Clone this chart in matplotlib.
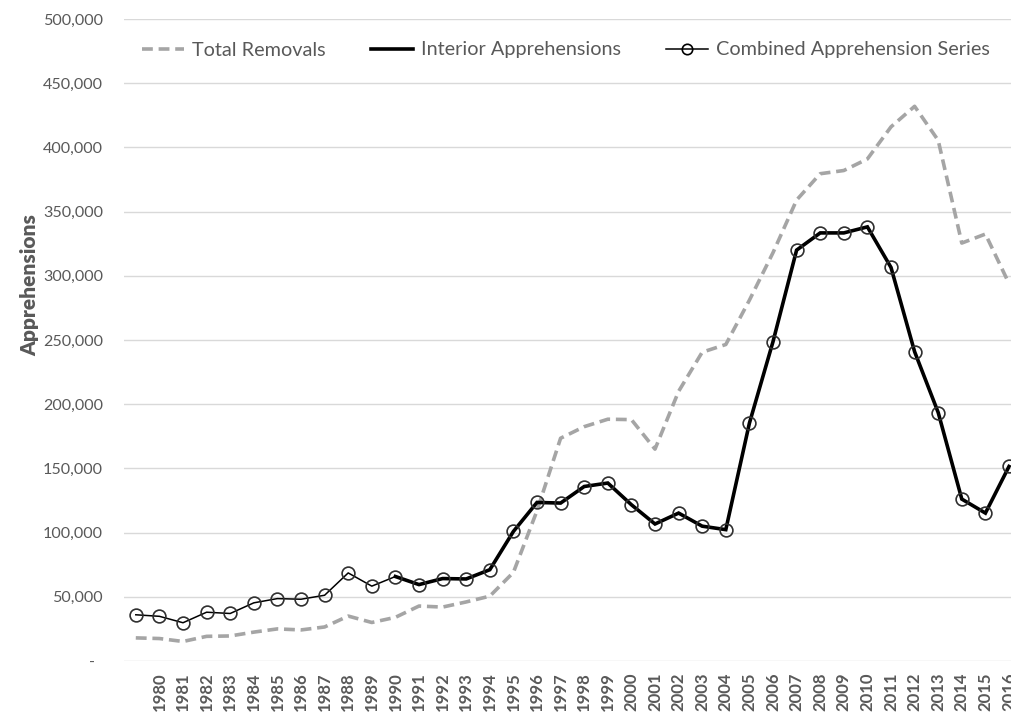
import matplotlib
matplotlib.use("Agg")
import matplotlib.pyplot as plt
from matplotlib.lines import Line2D
from matplotlib.ticker import FuncFormatter, FixedLocator
import numpy as np

# ---------------- data ----------------
years = list(range(1979, 2017))
year_labels = [""] + [str(y) for y in range(1980, 2017)]

total_removals = [
    18000, 17500, 15200, 19200, 19500, 22500, 25000, 24200, 26500, 35000,
    30000, 34000, 42800, 42000, 46000, 50500, 69000, 117000, 173500, 182500,
    188300, 188000, 165000, 210000, 240500, 246500, 281000, 318000, 359000,
    379500, 382000, 391000, 416000, 432000, 405500, 325500, 332500, 294000,
]

combined_series = [
    36000, 34800, 29800, 38000, 37000, 45300, 48600, 48100, 51200, 68600,
    58300, 65800, 59500, 64200, 63900, 71100, 100900, 123500, 123000, 135900,
    138600, 121700, 106700, 115200, 105000, 102300, 185200, 248700, 320000,
    333400, 333400, 338100, 306500, 240900, 193500, 126100, 115200, 151500,
]

interior_years = list(range(1990, 2017))
interior_apprehensions = [
    65800, 59500, 64200, 63900, 71100, 100900, 123500, 123000, 135900,
    138600, 121700, 106700, 115200, 105000, 102300, 185200, 248700, 320000,
    333400, 333400, 338100, 306500, 240900, 193500, 126100, 115200, 151500,
]

y_ticks = list(range(0, 500001, 50000))

# ---------------- style ----------------
TEXT = "#595959"
GRID = "#D9D9D9"
GRAY = "#A5A5A5"
FONT = "Lato"

plt.rcParams["font.family"] = [FONT, "DejaVu Sans"]

fig = plt.figure(figsize=(10.11, 7.13), dpi=100)
W, H = 1011.0, 713.0
left_px, right_px = 124.0, 124.0 + 38 * 23.6
top_px, bottom_px = 19.0, 661.0
ax = fig.add_axes([left_px / W, (H - bottom_px) / H,
                   (right_px - left_px) / W, (bottom_px - top_px) / H])

pos = {y: i for i, y in enumerate(years)}
x_all = np.array([pos[y] for y in years], dtype=float)
x_int = np.array([pos[y] for y in interior_years], dtype=float)

dash = (0, (3.0, 1.6))
ax.plot(x_all, total_removals, color=GRAY, lw=2.6, linestyle=dash,
        dash_capstyle="butt", dash_joinstyle="round", zorder=3)
ax.plot(x_int, interior_apprehensions, color="black", lw=2.6,
        solid_joinstyle="miter", zorder=4)
ax.plot(x_all, combined_series, color="black", lw=1.1, marker="o",
        markersize=9.2, markerfacecolor="none", markeredgecolor="#303030",
        markeredgewidth=1.2, zorder=5)

# axes
ax.set_xlim(-0.5, 37.5)
ax.set_ylim(0, 500000)
ax.xaxis.set_major_locator(FixedLocator(x_all))
ax.set_xticklabels(year_labels, rotation=90, fontsize=12, fontweight="bold",
                   color=TEXT, va="top", ha="center")
ax.tick_params(axis="x", length=0, pad=8)
ax.yaxis.set_major_locator(FixedLocator(y_ticks))
ax.yaxis.set_major_formatter(FuncFormatter(
    lambda v, p: "-  " if v == 0 else f"{int(v):,}"))
ax.tick_params(axis="y", length=0, pad=15, labelsize=11.6, labelcolor=TEXT)
ax.yaxis.grid(True, color=GRID, lw=1.0)
ax.set_axisbelow(True)
for s in ax.spines.values():
    s.set_visible(False)

fig.text(30 / W, 1 - 285 / H, "Apprehensions", rotation=90, ha="center",
         va="center", fontsize=15, fontweight="heavy", color=TEXT)

handles = [
    Line2D([], [], color=GRAY, lw=2.6, linestyle=dash),
    Line2D([], [], color="black", lw=2.6),
    Line2D([], [], color="black", lw=1.1, marker="o", markersize=7.5,
           markerfacecolor="none", markeredgecolor="black", markeredgewidth=1.2),
]
labels = ["Total Removals", "Interior Apprehensions", "Combined Apprehension Series"]
leg = fig.legend(handles, labels, loc="center", ncol=3, frameon=False,
                 bbox_to_anchor=(566 / W, 1 - 50 / H), fontsize=14.3,
                 handlelength=2.1, handletextpad=0.4, columnspacing=2.3,
                 borderaxespad=0)
for t in leg.get_texts():
    t.set_color(TEXT)

fig.savefig("out.png", dpi=100)
